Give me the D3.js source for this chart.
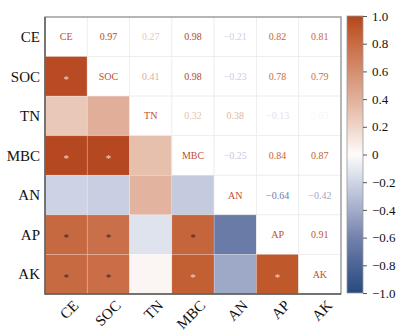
<!DOCTYPE html>
<html>
<head>
<meta charset="utf-8">
<script src="https://cdn.jsdelivr.net/npm/d3@7.9.0/dist/d3.min.js"></script>
<style>
  body { margin: 0; background: #fff; }
  svg text { font-family: 'Liberation Serif', 'Times New Roman', 'DejaVu Serif', serif; }
</style>
</head>
<body>
<div id="chart"></div>
<script>
// soil variables and their pairwise correlations (upper triangle, row by row)
const vars = ['CE', 'SOC', 'TN', 'MBC', 'AN', 'AP', 'AK'];
const corrUpper = [
  [0.97, 0.27, 0.98, -0.21, 0.82, 0.81],
  [0.41, 0.98, -0.23, 0.78, 0.79],
  [0.32, 0.38, -0.13, 0.03],
  [-0.25, 0.84, 0.87],
  [-0.64, -0.42],
  [0.91]
];
// significant pairs, marked with * in the lower triangle
const sigPairs = [
  ['SOC', 'CE'], ['MBC', 'CE'], ['MBC', 'SOC'],
  ['AP', 'CE'], ['AP', 'SOC'], ['AP', 'MBC'],
  ['AK', 'CE'], ['AK', 'SOC'], ['AK', 'MBC'], ['AK', 'AP']
];
const barTicks = [1, 0.8, 0.6, 0.4, 0.2, 0, -0.2, -0.4, -0.6, -0.8, -1];

const serif = "'Liberation Serif', 'Times New Roman', serif";

// full symmetric matrix
const n = vars.length;
const corr = vars.map(() => Array(n).fill(1));
corrUpper.forEach((row, i) => row.forEach((v, k) => {
  const j = i + 1 + k;
  corr[i][j] = v;
  corr[j][i] = v;
}));
const isSig = (r, c) => sigPairs.some(([a, b]) => a === vars[r] && b === vars[c]);

const width = 407, height = 332;
const plot = { left: 45, top: 17, right: 341, bottom: 294 };

const svg = d3.select('#chart').append('svg')
  .attr('width', width).attr('height', height)
  .attr('font-family', serif);

const x = d3.scaleBand().domain(vars).range([plot.left, plot.right]);
const y = d3.scaleBand().domain(vars).range([plot.top, plot.bottom]);

const color = d3.scaleLinear()
  .domain([-1, -0.8, -0.6, -0.4, -0.2, 0, 0.2, 0.4, 0.6, 0.8, 0.9, 1])
  .range(['#264a7e', '#4c6496', '#7381ad', '#a3acca', '#cfd5e6', '#fdfcfb',
          '#efd5c8', '#e1b09b', '#d48e70', '#c86c45', '#c05a2b', '#b4441f'])
  .interpolate(d3.interpolateRgb)
  .clamp(true);

const cells = [];
for (let r = 0; r < n; r++) {
  for (let c = 0; c < n; c++) cells.push({ r, c, v: corr[r][c] });
}

const g = svg.append('g');

// lower triangle: filled cells
g.selectAll('rect.cell')
  .data(cells)
  .join('rect')
  .attr('class', 'cell')
  .attr('x', d => x(vars[d.c]))
  .attr('y', d => y(vars[d.r]))
  .attr('width', x.bandwidth())
  .attr('height', y.bandwidth())
  .attr('fill', d => d.r > d.c ? color(d.v) : '#fff')
  .attr('stroke', d => d.r > d.c ? 'rgba(255,255,255,0.22)' : '#ececec')
  .attr('stroke-width', 0.8);

// upper triangle: values as coloured text
g.selectAll('text.val')
  .data(cells.filter(d => d.c > d.r))
  .join('text')
  .attr('class', 'val')
  .attr('x', d => x(vars[d.c]) + x.bandwidth() / 2)
  .attr('y', d => y(vars[d.r]) + y.bandwidth() / 2)
  .attr('text-anchor', 'middle')
  .attr('dy', '0.35em')
  .attr('font-size', 10)
  .attr('fill', d => color(d.v))
  .text(d => d3.format('.2f')(d.v).replace('-', '\u2212'));

// diagonal: variable names
g.selectAll('text.diag')
  .data(vars)
  .join('text')
  .attr('class', 'diag')
  .attr('x', d => x(d) + x.bandwidth() / 2)
  .attr('y', d => y(d) + y.bandwidth() / 2)
  .attr('text-anchor', 'middle')
  .attr('dy', '0.35em')
  .attr('font-size', 10)
  .attr('fill', '#bf4f2c')
  .text(d => d);

// significance stars
g.selectAll('text.sig')
  .data(cells.filter(d => d.r > d.c && isSig(d.r, d.c)))
  .join('text')
  .attr('class', 'sig')
  .attr('x', d => x(vars[d.c]) + x.bandwidth() / 2)
  .attr('y', d => y(vars[d.r]) + y.bandwidth() / 2)
  .attr('text-anchor', 'middle')
  .attr('dy', '0.6em')
  .attr('font-size', 11)
  .attr('fill', d => d.v > 0.85 ? '#f4d6cc' : '#4a2418')
  .text('*');

// frame
svg.append('rect')
  .attr('x', plot.left).attr('y', plot.top)
  .attr('width', plot.right - plot.left).attr('height', plot.bottom - plot.top)
  .attr('fill', 'none').attr('stroke', '#8a8a8a').attr('stroke-width', 1.2);
svg.append('path')
  .attr('d', `M${plot.left},${plot.top}V${plot.bottom}H${plot.right}`)
  .attr('fill', 'none').attr('stroke', '#5c5c5c').attr('stroke-width', 1.4);

// row labels
svg.append('g').selectAll('text')
  .data(vars)
  .join('text')
  .attr('x', plot.left - 5)
  .attr('y', d => y(d) + y.bandwidth() / 2)
  .attr('dy', '0.35em')
  .attr('text-anchor', 'end')
  .attr('font-size', 15)
  .attr('fill', '#111')
  .text(d => d);

// column labels, rotated
svg.append('g').selectAll('text')
  .data(vars)
  .join('text')
  .attr('transform', d => `translate(${x(d) + x.bandwidth() / 2 + 6},${plot.bottom + 5}) rotate(-45)`)
  .attr('text-anchor', 'end')
  .attr('dy', '0.7em')
  .attr('font-size', 15)
  .attr('fill', '#111')
  .text(d => d);

// colour bar
const bar = { x: 347, w: 16, top: 16, bottom: 293 };
const yBar = d3.scaleLinear().domain([-1, 1]).range([bar.bottom, bar.top]);

const defs = svg.append('defs');
const grad = defs.append('linearGradient')
  .attr('id', 'corr-grad')
  .attr('x1', 0).attr('y1', 1).attr('x2', 0).attr('y2', 0);
d3.range(-1, 1.001, 0.05).forEach(v => {
  grad.append('stop')
    .attr('offset', (v + 1) / 2)
    .attr('stop-color', color(v));
});

svg.append('rect')
  .attr('x', bar.x).attr('y', bar.top)
  .attr('width', bar.w).attr('height', bar.bottom - bar.top)
  .attr('fill', 'url(#corr-grad)')
  .attr('stroke', '#9a9a9a').attr('stroke-width', 0.8);

const barAxis = svg.append('g')
  .attr('transform', `translate(${bar.x + bar.w},0)`)
  .call(d3.axisRight(yBar)
    .tickValues(barTicks)
    .tickSize(4)
    .tickPadding(5)
    .tickFormat(d => d === 0 ? '0' : d3.format('.1f')(d).replace('-', '\u2212')));
barAxis.attr('font-family', serif);
barAxis.select('.domain').remove();
barAxis.selectAll('line').attr('stroke', '#555');
barAxis.selectAll('text')
  .attr('font-size', 13)
  .attr('fill', '#111');
</script>
</body>
</html>
